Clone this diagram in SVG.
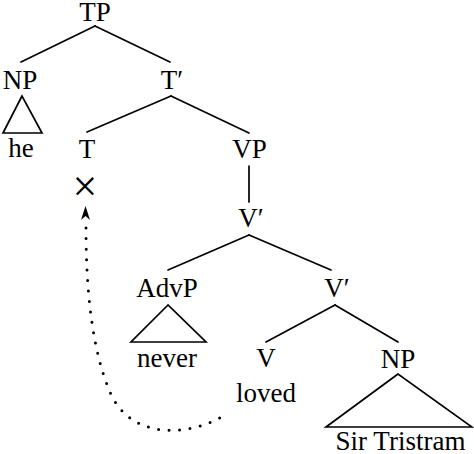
<svg xmlns="http://www.w3.org/2000/svg" width="474" height="454" viewBox="0 0 474 454">
<style>
text{font-family:"Liberation Serif","Times New Roman",serif;font-size:27px;fill:#000;text-anchor:middle}
.e{stroke:#000;stroke-width:1.7;fill:none;stroke-linecap:round}
.tri{stroke:#000;stroke-width:1.7;fill:none;stroke-linejoin:miter}
.dot{stroke:#000;stroke-width:3;fill:none;stroke-linecap:round;stroke-dasharray:0 10.5}
</style>
<rect width="474" height="454" fill="#fff"/>
<g id="edges">
<line class="e" x1="95" y1="26" x2="21" y2="62"/>
<line class="e" x1="95" y1="26" x2="170" y2="62"/>
<line class="e" x1="171" y1="96" x2="87" y2="132"/>
<line class="e" x1="171" y1="96" x2="249" y2="133"/>
<line class="e" x1="249" y1="166" x2="249" y2="202"/>
<line class="e" x1="249" y1="235" x2="168" y2="270"/>
<line class="e" x1="249" y1="235" x2="331" y2="270"/>
<line class="e" x1="335" y1="305" x2="266" y2="342"/>
<line class="e" x1="335" y1="305" x2="398" y2="342"/>
</g>
<g id="TP"><text x="95" y="21">TP</text></g>
<g id="NP1"><text x="20" y="89">NP</text><path class="tri" d="M22,96 L3,133 L42,133 Z"/><text x="21" y="157">he</text></g>
<g id="Tbar"><text x="172" y="89">T′</text></g>
<g id="T"><text x="87" y="158">T</text><text x="85" y="201" style="font-size:44px">×</text></g>
<g id="VP"><text x="249.5" y="158">VP</text></g>
<g id="Vbar1"><text x="251" y="227">V′</text></g>
<g id="AdvP"><text x="167" y="297">AdvP</text><path class="tri" d="M168,305 L131,342 L206,342 Z"/><text x="167" y="367">never</text></g>
<g id="Vbar2"><text x="337" y="297">V′</text></g>
<g id="V"><text x="266" y="367">V</text><text x="266" y="402">loved</text></g>
<g id="NP2"><text x="398" y="368">NP</text><path class="tri" d="M398,374 L326,427 L472,427 Z"/><text x="400.5" y="450">Sir Tristram</text></g>
<g id="movement">
<path class="dot" d="M86,228 C86,290 92,350 110,392 C130,440 190,438 228,413"/>
<path d="M85.5,206 L90,220 L85.5,216 L81,220 Z" fill="#000"/>
</g>
</svg>
